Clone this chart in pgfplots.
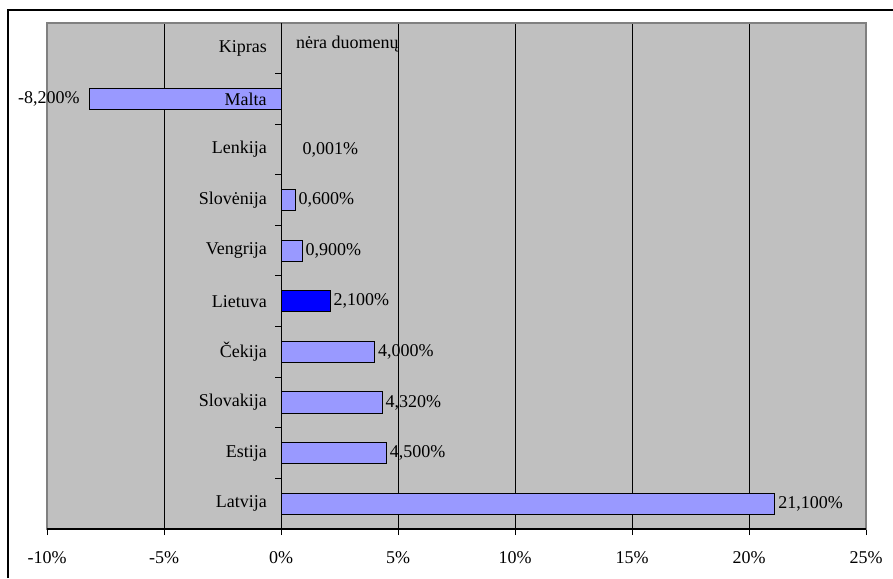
\documentclass[border=0pt]{standalone}
\usepackage{pgfplots}
\pgfplotsset{compat=1.18}
\usepackage{fontspec}
\setmainfont{Liberation Serif}
\definecolor{barc}{HTML}{9999FF}
\definecolor{bgc}{HTML}{C0C0C0}
\begin{document}
\begin{tikzpicture}[x=1pt,y=1pt]
\useasboundingbox (0,0) rectangle (446.5,289);
\draw[line width=0.8pt] (4,0) -- (4,284) -- (446.5,284);
\begin{axis}[
  at={(23.5pt,24.5pt)}, anchor=south west,
  scale only axis, width=409.5pt, height=253pt,
  xmin=-10, xmax=25, ymin=-0.5, ymax=9.5,
  xbar, bar shift=0pt, bar width=0.42,
  clip=false,
  axis background/.style={fill=bgc},
  axis line style={draw=gray, line width=0.6pt},
  xtick={-10,-5,0,5,10,15,20,25},
  xticklabels={-10\%,-5\%,0\%,5\%,10\%,15\%,20\%,25\%},
  xtick pos=bottom, tick align=outside, major tick length=3pt,
  xtick style={black, line width=0.5pt},
  xticklabel style={yshift=-4.5pt},
  ytick={0,...,9},
  yticklabels={Latvija,Estija,Slovakija,Čekija,Lietuva,Vengrija,Slovėnija,Lenkija,{},Kipras},
  ytick style={draw=none},
  yticklabel style={xshift=116.5pt},
  ticklabel style={font=\fontsize{9}{10.5}\selectfont},
  xmajorgrids, grid style={black, line width=0.5pt},
  point meta=explicit symbolic,
  nodes near coords={\pgfplotspointmeta\%},
  nodes near coords style={anchor=west, inner sep=1.5pt, font=\fontsize{9}{10.5}\selectfont, black},
]
\addplot[fill=barc, draw=black, line width=0.5pt] table[x=x, y=y, meta=lab] {
x y lab
21.1 0 21,100
4.5 1 4,500
4.32 2 4,320
4.0 3 4,000
0.9 5 0,900
0.6 6 0,600
};
\addplot[fill=blue, draw=black, line width=0.5pt] table[x=x, y=y, meta=lab] {
x y lab
2.1 4 2,100
};
\addplot[fill=barc, draw=black, line width=0.5pt, nodes near coords style={anchor=west, xshift=9pt}] table[x=x, y=y, meta=lab] {
x y lab
0.001 7 0,001
};
\addplot[fill=barc, draw=black, line width=0.5pt, nodes near coords style={anchor=east, xshift=-3pt}] table[x=x, y=y, meta=lab] {
x y lab
-8.2 8 -8,200
};
\node[anchor=east, inner sep=0pt, font=\fontsize{9}{10.5}\selectfont, xshift=-7pt] at (axis cs:0,8) {Malta};
\node[anchor=west, font=\fontsize{9}{10.5}\selectfont, yshift=2pt, xshift=4pt] at (axis cs:0,9) {nėra duomenų};
\draw[black, line width=0.5pt] (axis cs:0,-0.5) -- (axis cs:0,9.5);
\pgfplotsinvokeforeach{0.5,1.5,2.5,3.5,4.5,5.5,6.5,7.5,8.5}{
  \draw[black, line width=0.5pt] (axis cs:0,#1) -- ++(-3pt,0pt);
}
\draw[black, line width=0.6pt] (rel axis cs:0,0) -- (rel axis cs:1,0);
\end{axis}
\end{tikzpicture}
\end{document}
